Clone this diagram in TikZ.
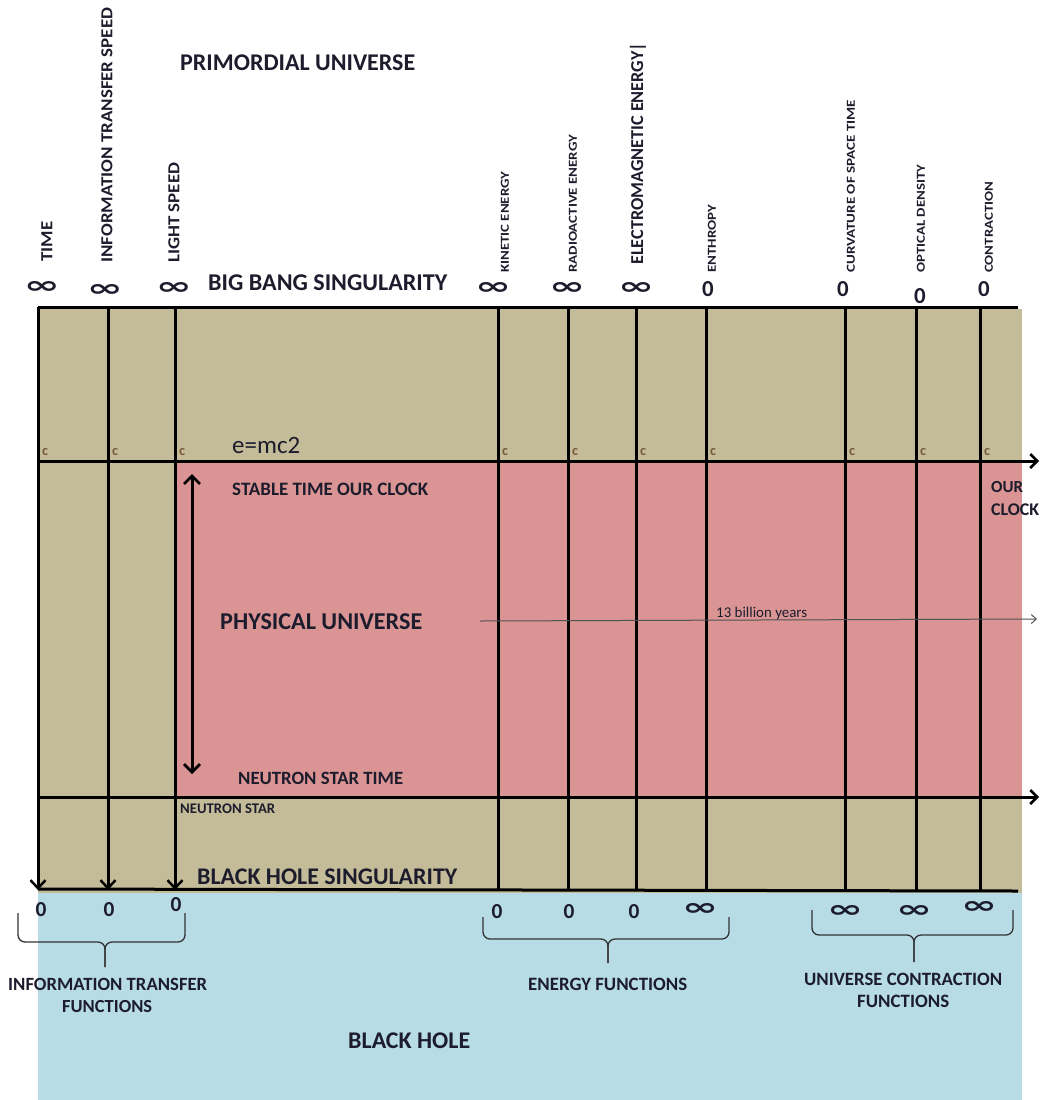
\documentclass[tikz,border=0pt]{standalone}
\usepackage{fontspec}
\setmainfont{Carlito}
\newfontfamily\symfont{DejaVu Sans}
\usetikzlibrary{arrows.meta}

\definecolor{khaki}{RGB}{196,188,152}
\definecolor{rose}{RGB}{218,148,148}
\definecolor{sky}{RGB}{183,220,230}
\definecolor{ink}{RGB}{28,28,45}
\definecolor{cmark}{RGB}{120,90,55}
\definecolor{thin}{RGB}{80,80,85}

% text fitted to a given width (and cap height)
\newcommand{\fitw}[2]{\resizebox{#1pt}{!}{\bfseries #2}}
\newcommand{\fitwh}[3]{\resizebox{#1pt}{#2pt}{\bfseries #3}}
\newcommand{\infsym}{\resizebox{36pt}{12pt}{\symfont\bfseries ∞}}
\newcommand{\zerosym}[1]{\resizebox{!}{#1pt}{\bfseries 0}}

\begin{document}
\begin{tikzpicture}[x=1pt,y=-1pt,
  txt/.style={inner sep=0pt,text=ink},
  vlab/.style={inner sep=0pt,text=ink,rotate=90,anchor=west},
  gridline/.style={line width=3pt,draw=black},
  downarrow/.style={line width=3pt,draw=black,-{Straight Barb[length=8pt,width=15pt,line width=2.5pt]}},
  rightarrow/.style={line width=3pt,draw=black,-{Straight Barb[length=7pt,width=14pt,line width=2.5pt]}},
  clockspan/.style={line width=3pt,draw=black,{Straight Barb[length=8pt,width=16pt,line width=2.8pt]}-{Straight Barb[length=8pt,width=16pt,line width=2.8pt]}},
  agearrow/.style={line width=1pt,draw=thin,-{Straight Barb[length=5pt,width=9pt,line width=1pt]}},
  brace/.style={line width=1.3pt,draw=black!80,rounded corners=7pt},
  cnote/.style={inner sep=0pt,text=cmark},
  val/.style={inner sep=0pt,text=ink}
]
\useasboundingbox (0,0) rectangle (1040,1100);

% colour bands
\fill[khaki] (38,309) rectangle (1022,893);
\fill[rose] (175,461) rectangle (1022,797);
\fill[sky] (38,893) rectangle (1022,1100);

% column positions
\foreach \n/\x in {a/38,b/108,c/175,d/498,e/568,f/636,g/706,h/845,i/916,j/980}{
  \coordinate (\n top) at (\x,307);
  \coordinate (\n bot) at (\x,890);
  \coordinate (\n c) at (\x+7,455);
}

% singularity lines
\coordinate (bbL) at (38,307);
\coordinate (bbR) at (1018,307);
\coordinate (bhL) at (38,889);
\coordinate (bhR) at (1018,891);
\draw[gridline] (bbL) -- (bbR);
\draw[gridline] (bhL) -- (bhR);

% clock lines
\coordinate (clkL) at (38,461);
\coordinate (clkR) at (1039,461);
\coordinate (nsL) at (38,797);
\coordinate (nsR) at (1039,797);
\draw[rightarrow] (clkL) -- (clkR);
\draw[rightarrow] (nsL) -- (nsR);

% function columns
\foreach \n in {a,b,c}{
  \draw[downarrow] (\n top) -- (\n bot);
}
\foreach \n in {d,e,f,g,h,i,j}{
  \draw[gridline] (\n top) -- (\n bot);
}
\foreach \n in {a,b,c,d,e,f,g,h,i,j}{
  \node[cnote,anchor=base] at (\n c) {\resizebox{6pt}{!}{\bfseries c}};
}

% span of stable time
\coordinate (stT) at (192,474);
\coordinate (stB) at (192,774);
\draw[clockspan] (stT) -- (stB);

% age of the universe
\coordinate (ageL) at (480,621);
\coordinate (ageR) at (1037,619);
\draw[agearrow] (ageL) -- (ageR);
\node[inner sep=0pt,text=ink,anchor=base west] (age) at (716,617) {\resizebox{91pt}{!}{13 billion years}};

% column titles
\node[vlab] (tTime) at (47,262) {\fitwh{40}{11}{TIME}};
\node[vlab] (tInfo) at (107,263) {\fitwh{255}{11}{INFORMATION TRANSFER SPEED}};
\node[vlab] (tLight) at (174,263) {\fitwh{100}{11}{LIGHT SPEED}};
\node[vlab] (tKin) at (505,273) {\fitwh{101}{8}{KINETIC ENERGY}};
\node[vlab] (tRad) at (573,273) {\fitwh{138}{8}{RADIOACTIVE ENERGY}};
\node[vlab] (tEm) at (638,265) {\fitw{222}{ELECTROMAGNETIC ENERGY|}};
\node[vlab] (tEnt) at (712,273) {\fitwh{68}{8}{ENTHROPY}};
\node[vlab] (tCurv) at (851,273) {\fitwh{173}{8}{CURVATURE OF SPACE TIME}};
\node[vlab] (tOpt) at (921,273) {\fitwh{108}{8}{OPTICAL DENSITY}};
\node[vlab] (tCon) at (989,273) {\fitwh{91}{8}{CONTRACTION}};

% values at the big bang
\node[val] (v1) at (42,287) {\infsym};
\node[val] (v2) at (105,290) {\infsym};
\node[val] (v3) at (174,288) {\infsym};
\node[val] (v4) at (493,288) {\infsym};
\node[val] (v5) at (567,288) {\infsym};
\node[val] (v6) at (636,288) {\infsym};
\node[val] (v7) at (708,289) {\zerosym{15}};
\node[val] (v8) at (843,289) {\zerosym{15}};
\node[val] (v9) at (920,296) {\zerosym{15}};
\node[val] (v10) at (984,289) {\zerosym{15}};

% values at the black hole
\node[val] (w1) at (41,910) {\zerosym{14}};
\node[val] (w2) at (109,910) {\zerosym{14}};
\node[val] (w3) at (176,905) {\zerosym{14}};
\node[val] (w4) at (497,912) {\zerosym{14}};
\node[val] (w5) at (569,912) {\zerosym{14}};
\node[val] (w6) at (634,912) {\zerosym{14}};
\node[val] (w7) at (700,909) {\infsym};
\node[val] (w8) at (845,911) {\infsym};
\node[val] (w9) at (914,911) {\infsym};
\node[val] (w10) at (979,907) {\infsym};

% region titles
\node[txt,anchor=base west] (prim) at (180,70) {\fitw{235}{PRIMORDIAL UNIVERSE}};
\node[txt,anchor=base west] (bb) at (208,290) {\fitw{239}{BIG BANG SINGULARITY}};
\node[txt,anchor=base west] (emc) at (232,453) {\resizebox{68pt}{!}{e=mc2}};
\node[txt,anchor=base west] (stable) at (232,495) {\fitw{196}{STABLE TIME OUR CLOCK}};
\node[txt,anchor=base west] (our) at (991,492) {\fitw{32}{OUR}};
\node[txt,anchor=base west] (clock) at (991,515) {\fitw{48}{CLOCK}};
\node[txt,anchor=base west] (phys) at (220,629) {\fitw{202}{PHYSICAL UNIVERSE}};
\node[txt,anchor=base west] (nst) at (238,784) {\fitw{165}{NEUTRON STAR TIME}};
\node[txt,anchor=base west] (ns) at (180,813) {\fitw{95}{NEUTRON STAR}};
\node[txt,anchor=base west] (bh) at (197,884) {\fitw{260}{BLACK HOLE SINGULARITY}};
\node[txt,anchor=base west] (bhole) at (348,1048) {\fitw{122}{BLACK HOLE}};

% function groups
\node[txt,anchor=base west] (itf1) at (8,990) {\fitw{199}{INFORMATION TRANSFER}};
\node[txt,anchor=base west] (itf2) at (62,1012) {\fitw{90}{FUNCTIONS}};
\node[txt,anchor=base west] (ef) at (528,990) {\fitw{159}{ENERGY FUNCTIONS}};
\node[txt,anchor=base west] (ucf1) at (804,985) {\fitw{198}{UNIVERSE CONTRACTION}};
\node[txt,anchor=base west] (ucf2) at (857,1007) {\fitw{92}{FUNCTIONS}};

% braces
\coordinate (b1l) at (18,913);  \coordinate (b1r) at (185,913);
\coordinate (b1m) at (105,942); \coordinate (b1t) at (105,967);
\draw[brace] (b1l) -- (b1l |- b1m) -- (b1m) -- (b1t);
\draw[brace] (b1r) -- (b1r |- b1m) -- (b1m) -- (b1t);

\coordinate (b2l) at (483,917); \coordinate (b2r) at (729,917);
\coordinate (b2m) at (608,939); \coordinate (b2t) at (608,963);
\draw[brace] (b2l) -- (b2l |- b2m) -- (b2m) -- (b2t);
\draw[brace] (b2r) -- (b2r |- b2m) -- (b2m) -- (b2t);

\coordinate (b3l) at (812,910); \coordinate (b3r) at (1013,910);
\coordinate (b3m) at (914,935); \coordinate (b3t) at (914,962);
\draw[brace] (b3l) -- (b3l |- b3m) -- (b3m) -- (b3t);
\draw[brace] (b3r) -- (b3r |- b3m) -- (b3m) -- (b3t);
\end{tikzpicture}
\end{document}
